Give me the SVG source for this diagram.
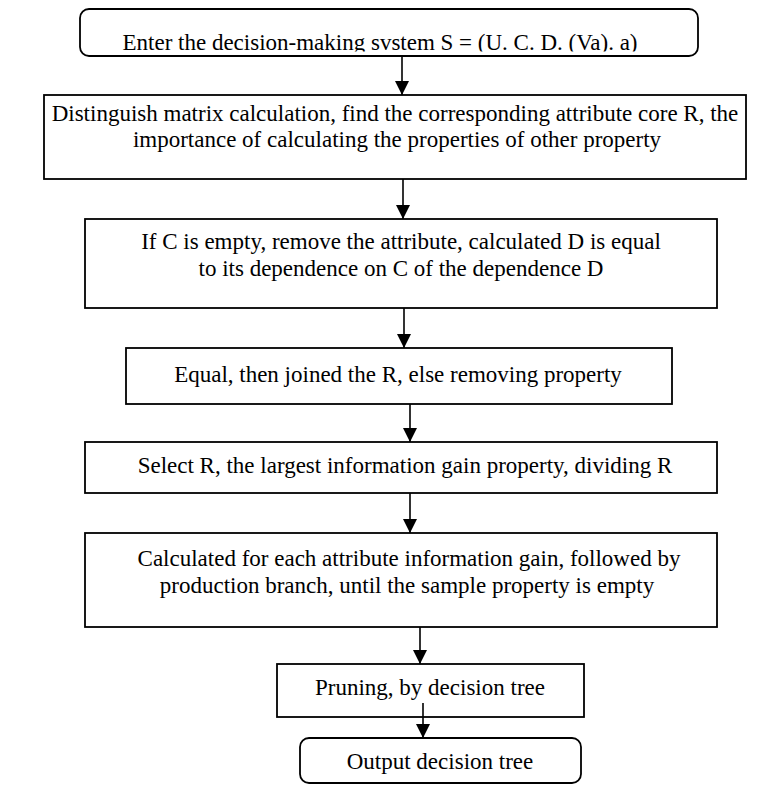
<svg xmlns="http://www.w3.org/2000/svg" width="774" height="785" viewBox="0 0 774 785">
<defs>
<style>
.b{fill:#fff;stroke:#000;stroke-width:1.8}
.t{font-family:"Liberation Serif","Times New Roman",serif;font-size:23px;fill:#000;text-anchor:middle}
.c{stroke:#000;stroke-width:1.6;fill:none}
</style>
<marker id="ah" markerWidth="14" markerHeight="14" refX="14" refY="7" orient="auto" markerUnits="userSpaceOnUse" viewBox="0 0 14 14">
<path d="M0,0 L14,7 L0,14 z" fill="#000"/>
</marker>
<clipPath id="clip1"><rect x="0" y="0" width="774" height="51.5"/></clipPath>
</defs>
<rect width="774" height="785" fill="#fff"/>
<g id="connectors">
<line class="c" x1="402" y1="56" x2="402" y2="95" marker-end="url(#ah)"/>
<line class="c" x1="403" y1="179" x2="403" y2="219" marker-end="url(#ah)"/>
<line class="c" x1="404" y1="308" x2="404" y2="348" marker-end="url(#ah)"/>
<line class="c" x1="410" y1="404" x2="410" y2="442" marker-end="url(#ah)"/>
<line class="c" x1="410" y1="493" x2="410" y2="533" marker-end="url(#ah)"/>
<line class="c" x1="420" y1="627" x2="420" y2="664" marker-end="url(#ah)"/>
</g>
<g id="n1"><rect class="b" x="80" y="9" width="618" height="47" rx="9"/><text class="t" x="380" y="50" clip-path="url(#clip1)">Enter the decision-making svstem S = (U. C. D. (Va). a)</text></g>
<g id="n2"><rect class="b" x="44" y="95" width="702" height="84"/><text class="t" x="395" y="121">Distinguish matrix calculation, find the corresponding attribute core R, the</text><text class="t" x="397" y="147">importance of calculating the properties of other property</text></g>
<g id="n3"><rect class="b" x="85" y="219" width="632" height="89"/><text class="t" x="401" y="249">If C is empty, remove the attribute, calculated D is equal</text><text class="t" x="401" y="276">to its dependence on C of the dependence D</text></g>
<g id="n4"><rect class="b" x="126" y="348" width="546" height="56"/><text class="t" x="398" y="382">Equal, then joined the R, else removing property</text></g>
<g id="n5"><rect class="b" x="85" y="442" width="632" height="51"/><text class="t" x="405" y="473">Select R, the largest information gain property, dividing R</text></g>
<g id="n6"><rect class="b" x="85" y="533" width="632" height="94"/><text class="t" x="409" y="566">Calculated for each attribute information gain, followed by</text><text class="t" x="407" y="593">production branch, until the sample property is empty</text></g>
<g id="n7"><rect class="b" x="277" y="664" width="307" height="53"/><text class="t" x="430" y="695">Pruning, by decision tree</text></g>
<g id="n8"><rect class="b" x="300" y="738" width="281" height="45" rx="9"/><text class="t" x="440" y="769">Output decision tree</text></g>
<g id="connectors-2"><line class="c" x1="423" y1="703" x2="423" y2="738" marker-end="url(#ah)"/></g>
</svg>
